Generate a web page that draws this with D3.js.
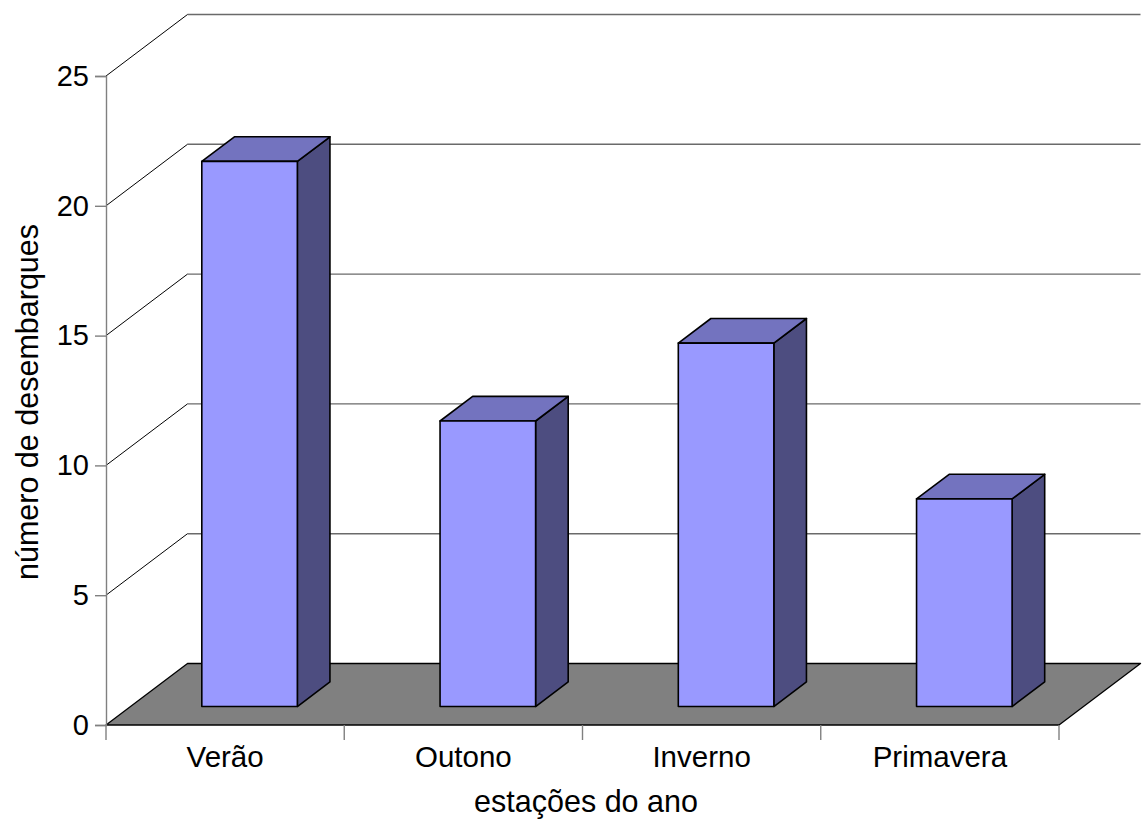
<!DOCTYPE html>
<html>
<head>
<meta charset="utf-8">
<script src="https://cdn.jsdelivr.net/npm/d3@7"></script>
<style>
  html, body { margin: 0; padding: 0; background: #fff; }
  svg { display: block; font-family: "Liberation Sans", Arial, sans-serif; }
</style>
</head>
<body>
<svg id="chart" width="1144" height="823"></svg>
<script>
// Landings per season
const categories = ["Verão", "Outono", "Inverno", "Primavera"];
const values = [21, 11, 14, 8];
const yTicks = [0, 5, 10, 15, 20, 25];
const yTitle = "número de desembarques";
const xTitle = "estações do ano";

const svg = d3.select("#chart");

// front plane of the 3D box
const x0 = 106, x1 = 1059;
const yBottom = 725, yTop = 76;
// depth vector from front plane to back wall
const DX = 81.5, DY = -61.5;
// bars sit between these depth fractions
const zFront = 0.3, zBack = 0.7;

const x = d3.scaleBand().domain(categories).range([x0, x1]).paddingInner(0).paddingOuter(0);
const y = d3.scaleLinear().domain([0, 25]).range([yBottom, yTop]);

const P = (px, py, z) => [px + z * DX, py + z * DY];
const poly = pts => "M" + pts.map(p => p.join(",")).join("L") + "Z";

// floor
svg.append("path")
  .attr("d", poly([P(x0, y(0), 0), P(x1, y(0), 0), P(x1, y(0), 1), P(x0, y(0), 1)]))
  .attr("fill", "#808080")
  .attr("stroke", "#000")
  .attr("stroke-width", 1.3)
  .attr("stroke-linejoin", "round");

// back-wall gridlines and side-wall diagonals
const grid = svg.append("g");
yTicks.filter(v => v > 0).forEach(v => {
  const a = P(x0, y(v), 1), b = P(x1, y(v), 1), c = P(x0, y(v), 0);
  grid.append("line")
    .attr("x1", a[0]).attr("y1", a[1]).attr("x2", b[0]).attr("y2", b[1])
    .attr("stroke", "#6a6a6a").attr("stroke-width", 1.4);
  grid.append("line")
    .attr("x1", c[0]).attr("y1", c[1]).attr("x2", a[0]).attr("y2", a[1])
    .attr("stroke", "#000").attr("stroke-width", 1);
});

// y axis on the front-left edge
const yAxis = d3.axisLeft(y).tickValues(yTicks).tickSize(11).tickPadding(6).tickFormat(d3.format("d"));
const gy = svg.append("g").attr("transform", `translate(${x0},0)`).call(yAxis);
gy.select(".domain").attr("stroke", "#808080").attr("stroke-width", 1.4);
gy.selectAll(".tick line").attr("stroke", "#808080").attr("stroke-width", 1.4);
gy.selectAll(".tick text")
  .attr("fill", "#000")
  .style("font-size", "29px")
  .style("font-family", "Liberation Sans, Arial, sans-serif");

// x axis ticks at band boundaries, labels centered in bands
const bounds = categories.map(c => x(c)).concat([x1]);
const gx = svg.append("g");
gx.selectAll("line").data(bounds).join("line")
  .attr("x1", d => d).attr("x2", d => d)
  .attr("y1", yBottom).attr("y2", yBottom + 15)
  .attr("stroke", "#808080").attr("stroke-width", 1.4);
gx.selectAll("text").data(categories).join("text")
  .attr("x", d => x(d) + x.bandwidth() / 2)
  .attr("y", 767)
  .attr("text-anchor", "middle")
  .style("font-size", "29.5px")
  .text(d => d);

// bars
const barW = x.bandwidth() * 0.401;
const bars = svg.append("g");
categories.forEach((c, i) => {
  const v = values[i];
  const cx = x(c) + x.bandwidth() / 2;
  const l = cx - barW / 2, r = cx + barW / 2;
  const g = bars.append("g");
  const style = sel => sel.attr("stroke", "#000").attr("stroke-width", 1.6).attr("stroke-linejoin", "round");
  // side face
  g.append("path").attr("fill", "#4d4d80")
    .attr("d", poly([P(r, y(0), zFront), P(r, y(0), zBack), P(r, y(v), zBack), P(r, y(v), zFront)]))
    .call(style);
  // top face
  g.append("path").attr("fill", "#7373bf")
    .attr("d", poly([P(l, y(v), zFront), P(r, y(v), zFront), P(r, y(v), zBack), P(l, y(v), zBack)]))
    .call(style);
  // front face
  g.append("path").attr("fill", "#9999ff")
    .attr("d", poly([P(l, y(0), zFront), P(r, y(0), zFront), P(r, y(v), zFront), P(l, y(v), zFront)]))
    .call(style);
});

// axis titles
svg.append("text")
  .attr("x", 586).attr("y", 812)
  .attr("text-anchor", "middle")
  .style("font-size", "30.5px")
  .text(xTitle);

svg.append("text")
  .attr("transform", "translate(38,402) rotate(-90)")
  .attr("text-anchor", "middle")
  .style("font-size", "30.5px")
  .text(yTitle);
</script>
</body>
</html>
